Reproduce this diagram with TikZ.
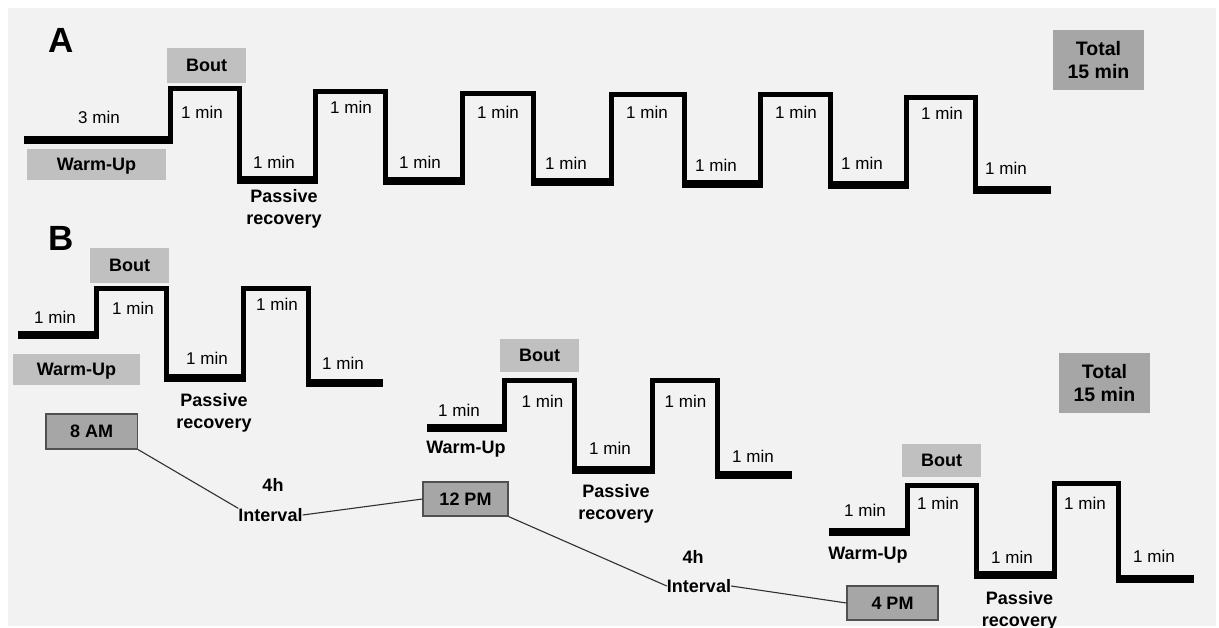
\documentclass[tikz,border=0pt]{standalone}
\usepackage{fontspec}
\setmainfont{Liberation Sans}
\definecolor{bgc}{HTML}{F2F2F2}
\definecolor{lightg}{HTML}{C0C0C0}
\definecolor{darkg}{HTML}{A6A6A6}
\definecolor{borderg}{HTML}{505050}
\definecolor{connc}{HTML}{303030}
\begin{document}
\begin{tikzpicture}[x=1pt,y=-1pt,
  stair/.style={line width=5pt, line join=miter, black},
  lowbar/.style={line width=7.5pt, line cap=butt, black},
  lbl/.style={font=\fontsize{17}{20}\selectfont, inner sep=0pt, text height=12.2pt, text depth=0pt},
  blbl/.style={font=\bfseries\fontsize{18}{21.5}\selectfont, inner sep=0pt, text height=12.9pt, text depth=0pt},
  recov/.style={font=\bfseries\fontsize{18}{21.5}\selectfont, inner sep=0pt, align=center, anchor=north},
  lightbox/.style={blbl, fill=lightg, minimum width=79pt, minimum height=35pt},
  totalbox/.style={font=\bfseries\fontsize{19.5}{23.5}\selectfont, inner sep=0pt, align=center, fill=darkg, minimum width=91pt, minimum height=60pt},
  timebox/.style={blbl, fill=darkg, draw=borderg, line width=1.1pt},
  conn/.style={draw=connc, line width=1.1pt},
  panel/.style={font=\bfseries\fontsize{35}{40}\selectfont, inner sep=0pt, text height=25pt, text depth=0pt}
]
\useasboundingbox (0,0) rectangle (1219,627);
\clip (0,0) rectangle (1219,627);
\fill[white] (0,0) rectangle (1219,627);
\fill[bgc] (8,8) rectangle (1216,626);

% ---------------- Panel A ----------------
\node[panel] (labA) at (61,40) {A};
\node[lightbox] (boutA) at (206.5,65.5) {Bout};
\node[lightbox, minimum width=139pt, minimum height=31pt] (warmA) at (96.5,164.5) {Warm-Up};
\node[totalbox] (totA) at (1098.5,60) {Total\\15 min};

\draw[lowbar] (24,140) -- (172.5,140);
\draw[stair] (170,140) -- (170,88) -- (239,88) -- (239,180) -- (315,180) -- (315,91)
  -- (385,91) -- (385,181) -- (462,181) -- (462,93) -- (533,93) -- (533,182)
  -- (611,182) -- (611,94) -- (684,94) -- (684,184) -- (760,184) -- (760,94)
  -- (830,94) -- (830,185) -- (906,185) -- (906,97) -- (975,97) -- (975,190) -- (1051,190);
\draw[lowbar] (236.5,180) -- (317.5,180);
\draw[lowbar] (382.5,181) -- (464.5,181);
\draw[lowbar] (530.5,182) -- (613.5,182);
\draw[lowbar] (681.5,184) -- (762.5,184);
\draw[lowbar] (827.5,185) -- (908.5,185);
\draw[lowbar] (972.5,190) -- (1051,190);

\node[lbl] (a0) at (99,117) {3 min};
\node[lbl] (a1) at (202,112) {1 min};
\node[lbl] (a2) at (274,162) {1 min};
\node[lbl] (a3) at (351,107) {1 min};
\node[lbl] (a4) at (420,162) {1 min};
\node[lbl] (a5) at (498,112) {1 min};
\node[lbl] (a6) at (566,163) {1 min};
\node[lbl] (a7) at (647,112) {1 min};
\node[lbl] (a8) at (716,165) {1 min};
\node[lbl] (a9) at (796,112) {1 min};
\node[lbl] (a10) at (862,163) {1 min};
\node[lbl] (a11) at (942,113) {1 min};
\node[lbl] (a12) at (1006,168) {1 min};
\node[recov] (recA) at (284,189.5) {Passive\\recovery};

% ---------------- Panel B ----------------
\node[panel] (labB) at (61.5,237.5) {B};
\node[totalbox] (totB) at (1104.5,383) {Total\\15 min};

% session 1
\node[lightbox] (bout1) at (129.5,265.5) {Bout};
\node[lightbox, minimum width=127pt, minimum height=31pt] (warm1) at (76.5,369.5) {Warm-Up};
\draw[lowbar] (18,335) -- (98.5,335);
\draw[stair] (96,335) -- (96,288) -- (166,288) -- (166,378) -- (243,378) -- (243,288)
  -- (308,288) -- (308,383) -- (383,383);
\draw[lowbar] (163.5,378) -- (245.5,378);
\draw[lowbar] (305.5,383) -- (383,383);
\node[lbl] (b10) at (55,317) {1 min};
\node[lbl] (b11) at (133,308) {1 min};
\node[lbl] (b12) at (207,358) {1 min};
\node[lbl] (b13) at (277,304) {1 min};
\node[lbl] (b14) at (343,363) {1 min};
\node[recov] (rec1) at (214,393.5) {Passive\\recovery};

% session 2
\node[lightbox, minimum height=33pt] (bout2) at (539.5,355.5) {Bout};
\draw[lowbar] (427,428) -- (506.5,428);
\draw[stair] (504,428) -- (504,380) -- (574,380) -- (574,470) -- (652,470) -- (652,380)
  -- (717,380) -- (717,475) -- (792,475);
\draw[lowbar] (571.5,470) -- (654.5,470);
\draw[lowbar] (714.5,475) -- (792,475);
\node[lbl] (b20) at (459,410) {1 min};
\node[lbl] (b21) at (542.5,401) {1 min};
\node[lbl] (b22) at (610,448) {1 min};
\node[lbl] (b23) at (685.5,401) {1 min};
\node[lbl] (b24) at (753,456) {1 min};
\node[blbl] (warm2) at (466,447) {Warm-Up};
\node[recov] (rec2) at (616,484.5) {Passive\\recovery};

% session 3
\node[lightbox, minimum height=33pt] (bout3) at (941.5,460.5) {Bout};
\draw[lowbar] (829,532) -- (909.5,532);
\draw[stair] (907,532) -- (907,485) -- (976,485) -- (976,575) -- (1054,575) -- (1054,483)
  -- (1118,483) -- (1118,579) -- (1194,579);
\draw[lowbar] (973.5,575) -- (1056.5,575);
\draw[lowbar] (1115.5,579) -- (1194,579);
\node[lbl] (b30) at (865,510) {1 min};
\node[lbl] (b31) at (938,503) {1 min};
\node[lbl] (b32) at (1012,557) {1 min};
\node[lbl] (b33) at (1085,503) {1 min};
\node[lbl] (b34) at (1154,556) {1 min};
\node[blbl] (warm3) at (868,553) {Warm-Up};
\node[recov] (rec3) at (1019.5,591.5) {Passive\\recovery};

% time line
\node[timebox, minimum width=91.5pt, minimum height=35pt] (am8) at (91.75,431.5) {8 AM};
\node[timebox, minimum width=85pt, minimum height=34pt] (pm12) at (465.5,499) {12 PM};
\node[timebox, minimum width=91pt, minimum height=34pt] (pm4) at (892.5,603) {4 PM};
\node[blbl] (h1) at (273,485) {4h};
\node[blbl] (int1) at (270.5,515) {Interval};
\node[blbl] (h2) at (693,557) {4h};
\node[blbl] (int2) at (699,586) {Interval};
\draw[conn] (am8.south east) -- (int1.north west);
\draw[conn] (int1.east) -- (pm12.west);
\draw[conn] (pm12.south east) -- (int2.west);
\draw[conn] (int2.east) -- (pm4.west);
\end{tikzpicture}
\end{document}
